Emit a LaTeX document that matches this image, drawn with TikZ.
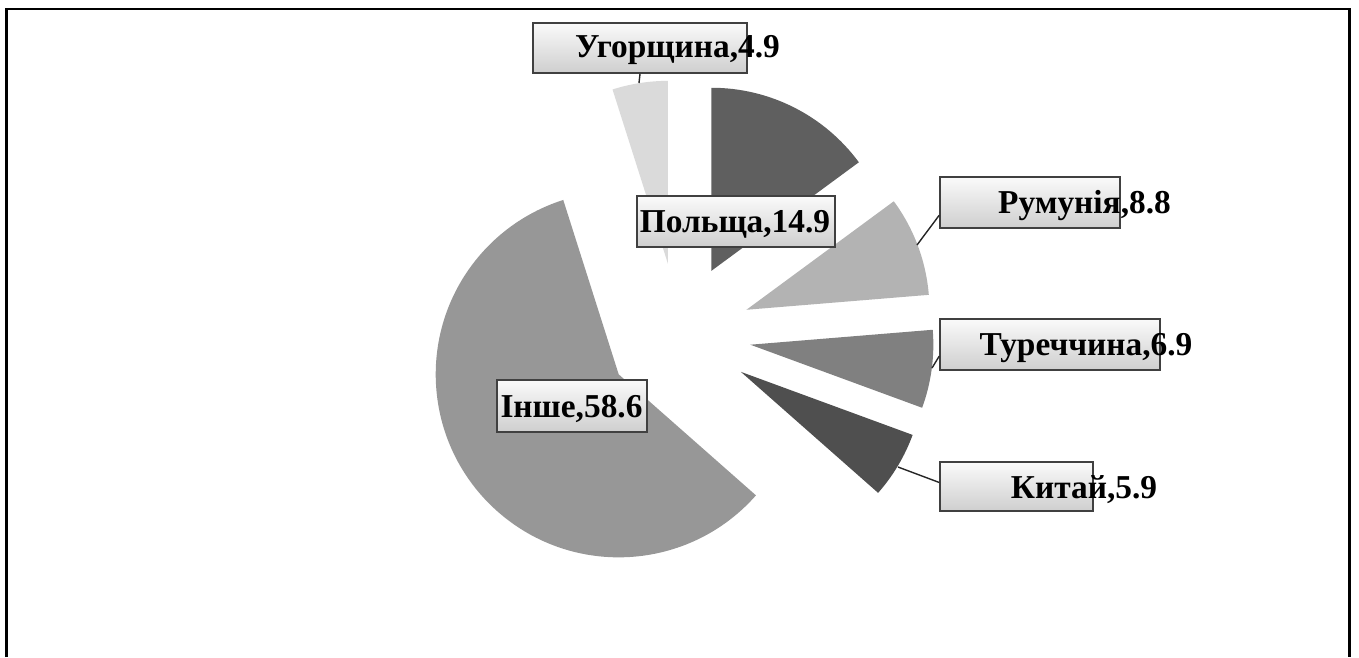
\documentclass[tikz,border=0pt]{standalone}
\usepackage{fontspec}
\setmainfont{Liberation Serif}
\usepackage{tikz}

\definecolor{plcol}{HTML}{5F5F5F}
\definecolor{rocol}{HTML}{B3B3B3}
\definecolor{tucol}{HTML}{808080}
\definecolor{kycol}{HTML}{4F4F4F}
\definecolor{incol}{HTML}{979797}
\definecolor{hucol}{HTML}{DADADA}

\begin{document}
\begin{tikzpicture}[x=0.02cm,y=0.02cm,
	lblbox/.style={draw=black!75,line width=0.9pt,top color=gray!4,bottom color=gray!38,inner sep=0pt},
	lbltext/.style={anchor=base,inner sep=0pt,font=\fontsize{19}{22}\selectfont\bfseries},
	leader/.style={draw=black!85,line width=0.8pt}]
	\useasboundingbox (0,0) rectangle (1359,-657);

	% Frame
	\draw[line width=1.4pt] (6.5,-657) -- (6.5,-9) -- (1349.5,-9) -- (1349.5,-657);

	% Slices start here
	\begin{scope}[shift={(679,-335)}]
		\fill[plcol] (63.18:72) -- ++(90:183) arc (90:36.36:183) -- cycle;
		\fill[rocol] (20.52:72) -- ++(36.36:183) arc (36.36:4.68:183) -- cycle;
		\fill[tucol] (-7.74:72) -- ++(4.68:183) arc (4.68:-20.16:183) -- cycle;
		\fill[kycol] (-30.78:72) -- ++(-20.16:183) arc (-20.16:-41.4:183) -- cycle;
		\fill[incol] (-146.88:72) -- ++(-41.4:183) arc (-41.4:-252.36:183) -- cycle;
		\fill[hucol] (98.82:72) -- ++(107.64:183) arc (107.64:90:183) -- cycle;
	\end{scope}

	% Labels start here
	\node (hubox) at (640,-48) [lblbox,minimum width=214*0.02cm,minimum height=50*0.02cm] {};
	\node (plbox) at (736,-221.5) [lblbox,minimum width=198*0.02cm,minimum height=51*0.02cm] {};
	\node (robox) at (1030,-202.5) [lblbox,minimum width=180*0.02cm,minimum height=51*0.02cm] {};
	\node (tubox) at (1050,-344.5) [lblbox,minimum width=220*0.02cm,minimum height=51*0.02cm] {};
	\node (kybox) at (1016.5,-486.5) [lblbox,minimum width=153*0.02cm,minimum height=49*0.02cm] {};
	\node (inbox) at (572,-406) [lblbox,minimum width=150*0.02cm,minimum height=52*0.02cm] {};

	\node (hutext) at (677.5,-57) [lbltext] {Угорщина,4.9};
	\node (pltext) at (735,-232.5) [lbltext] {Польща,14.9};
	\node (rotext) at (1084.5,-213) [lbltext] {Румунія,8.8};
	\node (tutext) at (1086,-355) [lbltext] {Туреччина,6.9};
	\node (kytext) at (1084,-498) [lbltext] {Китай,5.9};
	\node (intext) at (571.5,-417) [lbltext] {Інше,58.6};

	% Lines start here
	\coordinate (hutip) at (639,-83);
	\coordinate (rotip) at (917,-245);
	\coordinate (tutip) at (932,-368);
	\coordinate (kytip) at (898,-467);
	\draw[leader] (hubox.south) -- (hutip);
	\draw[leader] (robox.188) -- (rotip);
	\draw[leader] (tubox.186.5) -- (tutip);
	\draw[leader] (kybox.177) -- (kytip);

\end{tikzpicture}
\end{document}
